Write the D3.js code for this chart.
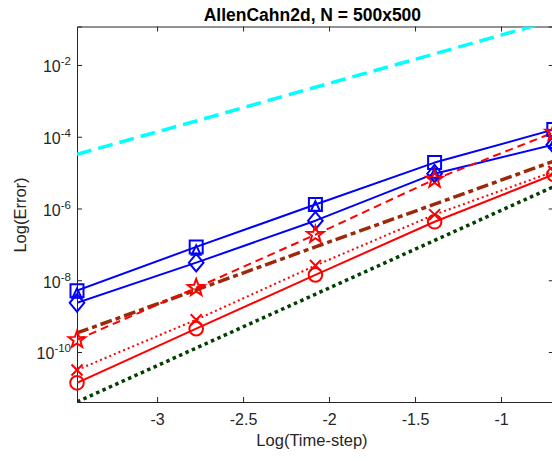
<!DOCTYPE html>
<html>
<head>
<meta charset="utf-8">
<script src="https://cdn.jsdelivr.net/npm/d3@7/dist/d3.min.js"></script>
<style>
  html, body { margin: 0; padding: 0; background: #fff; }
  svg { display: block; font-family: "Liberation Sans", Arial, sans-serif; }
</style>
</head>
<body>
<svg id="chart" width="552" height="461"></svg>
<script>
// ---- data (x = ln(time-step), y = log10(error)) ----
const timeSteps = [-3.4657, -2.7726, -2.0794, -1.3863, -0.6931];
const xTicks = [-3, -2.5, -2, -1.5, -1];
const yTicks = [-2, -4, -6, -8, -10];
const refCyan  = [-4.49, -3.56, -2.62, -1.69, -0.75];
const refGreen = [-11.39, -9.89, -8.39, -6.89, -5.39];
const refBrown = [-9.47, -8.27, -7.07, -5.88, -4.68];
const blueSquare   = [-8.29, -7.07, -5.89, -4.72, -3.80];
const blueTriangle = [-8.38, -7.18, -5.95, -5.03, -4.20];
const blueDiamond  = [-8.63, -7.51, -6.34, -5.03, -4.22];
const redStar   = [-9.66, -8.21, -6.73, -5.19, -3.88];
const redCross  = [-10.50, -9.10, -7.59, -6.17, -4.97];
const redCircle = [-10.86, -9.35, -7.85, -6.37, -5.05];

const titleText = "AllenCahn2d, N = 500x500";
const xLabel = "Log(Time-step)";
const yLabel = "Log(Error)";

// ---- layout ----
const svg = d3.select("#chart");
const L = 77, R = 553.8, T = 26.5, B = 402;
const x = d3.scaleLinear().domain([-3.4657, -0.6931]).range([L, R]);
const y = d3.scaleLog().domain([Math.pow(10, -11.394), Math.pow(10, -0.927)]).range([B, T]);
const axisColor = "#262626";

svg.append("defs").append("clipPath").attr("id", "clip")
  .append("rect").attr("x", L).attr("y", T).attr("width", R - L).attr("height", B - T);

// axes
const gx = svg.append("g").attr("transform", `translate(0,${B})`)
  .call(d3.axisBottom(x).tickValues(xTicks).tickSize(-5).tickPadding(12).tickFormat(d => String(d)));
const gxt = svg.append("g").attr("transform", `translate(0,${T})`)
  .call(d3.axisTop(x).tickValues(xTicks).tickSize(-5).tickFormat(""));
const gy = svg.append("g").attr("transform", `translate(${L},0)`)
  .call(d3.axisLeft(y).tickValues(yTicks.map(v => Math.pow(10, v))).tickSize(-5).tickFormat(""));
const gyr = svg.append("g").attr("transform", `translate(${R},0)`)
  .call(d3.axisRight(y).tickValues(yTicks.map(v => Math.pow(10, v))).tickSize(-5).tickFormat(""));
[gx, gxt, gy, gyr].forEach(g => {
  g.select(".domain").attr("stroke", axisColor).attr("stroke-width", 1);
  g.selectAll(".tick line").attr("stroke", axisColor);
});
gx.selectAll(".tick text").attr("font-size", 16).attr("fill", axisColor)
  .attr("font-family", "Liberation Sans, Arial, sans-serif").attr("dy", "0.71em");

// y tick labels with superscripts
gy.selectAll(".tick").each(function(d) {
  const t = d3.select(this).append("text")
    .attr("x", -6).attr("y", 7).attr("text-anchor", "end")
    .attr("fill", axisColor).attr("font-size", 16)
    .attr("font-family", "Liberation Sans, Arial, sans-serif");
  t.append("tspan").text("10");
  t.append("tspan").attr("dy", -7).attr("font-size", 11.5).text(String(Math.round(Math.log10(d))));
});

// labels
svg.append("text").attr("x", (L + R) / 2 - 3).attr("y", 20.5).attr("text-anchor", "middle")
  .attr("font-weight", "bold").attr("font-size", 17.5).attr("fill", "#000").text(titleText);
svg.append("text").attr("x", 312).attr("y", 446).attr("text-anchor", "middle")
  .attr("font-size", 16.5).attr("fill", axisColor).text(xLabel);
svg.append("text").attr("transform", "translate(26,215) rotate(-90)").attr("text-anchor", "middle")
  .attr("font-size", 16.5).attr("fill", axisColor).text(yLabel);

// ---- series ----
const plot = svg.append("g").attr("clip-path", "url(#clip)");
const line = d3.line().x((d, i) => x(timeSteps[i])).y(d => y(Math.pow(10, d)));

function drawLine(vals, color, width, dash, cap) {
  plot.append("path").datum(vals).attr("d", line)
    .attr("fill", "none").attr("stroke", color).attr("stroke-width", width)
    .attr("stroke-dasharray", dash || null).attr("stroke-linecap", cap || "butt")
    .attr("stroke-linejoin", "round");
}

function markerPath(shape, cx, cy) {
  const p = d3.path();
  if (shape === "square") { p.rect(cx - 6.5, cy - 6.5, 13, 13); }
  else if (shape === "diamond") {
    p.moveTo(cx, cy - 8.8); p.lineTo(cx + 7.3, cy); p.lineTo(cx, cy + 8.8); p.lineTo(cx - 7.3, cy); p.closePath();
  } else if (shape === "triangle") {
    p.moveTo(cx, cy - 5.5); p.lineTo(cx + 4.5, cy + 4); p.lineTo(cx - 4.5, cy + 4); p.closePath();
  } else if (shape === "circle") { p.moveTo(cx + 6.8, cy); p.arc(cx, cy, 6.8, 0, 2 * Math.PI); }
  else if (shape === "cross") {
    p.moveTo(cx - 5.5, cy - 5.5); p.lineTo(cx + 5.5, cy + 5.5);
    p.moveTo(cx + 5.5, cy - 5.5); p.lineTo(cx - 5.5, cy + 5.5);
  } else if (shape === "star") {
    const ro = 8.8, ri = 3.6;
    for (let k = 0; k < 10; k++) {
      const r = k % 2 ? ri : ro;
      const a = -Math.PI / 2 + k * Math.PI / 5;
      const px = cx + r * Math.cos(a), py = cy + r * Math.sin(a);
      if (k === 0) p.moveTo(px, py); else p.lineTo(px, py);
    }
    p.closePath();
  }
  return p.toString();
}

function drawMarkers(vals, shape, color) {
  svg.append("g").selectAll("path").data(vals).join("path")
    .attr("d", (d, i) => markerPath(shape, x(timeSteps[i]), y(Math.pow(10, d))))
    .attr("fill", "none").attr("stroke", color).attr("stroke-width", 2)
    .attr("stroke-linejoin", "miter");
}

// reference slopes
drawLine(refCyan, "#00ffff", 3.5, "15,7");
drawLine(refGreen, "#003f00", 3.5, "3.5,3.5");
drawLine(refBrown, "#9c2a0a", 3.5, "12,4,5,4");

// blue series
drawLine(blueSquare, "#0000ff", 2);
drawMarkers(blueSquare, "square", "#0000ff");
drawLine(blueDiamond, "#0000ff", 2);
drawMarkers(blueDiamond, "diamond", "#0000ff");
drawMarkers(blueTriangle, "triangle", "#0000ff");

// red series
drawLine(redStar, "#ff0000", 2, "8,5");
drawMarkers(redStar, "star", "#ff0000");
drawLine(redCross, "#ff0000", 2, "2,3");
drawMarkers(redCross, "cross", "#ff0000");
drawLine(redCircle, "#ff0000", 2);
drawMarkers(redCircle, "circle", "#ff0000");
</script>
</body>
</html>
